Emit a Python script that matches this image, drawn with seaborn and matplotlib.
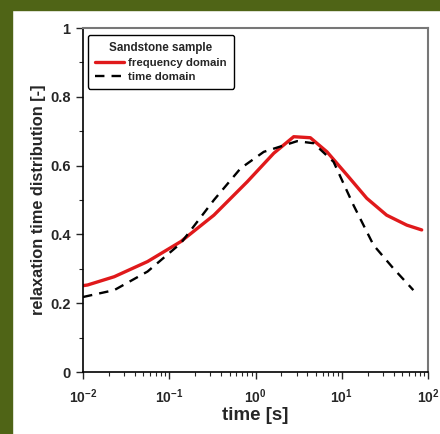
import numpy as np
import pandas as pd
import matplotlib
matplotlib.use("Agg")
import matplotlib.pyplot as plt
import seaborn as sns

# values (log10 of time, distribution)
log_t_freq = [-2.0, -1.946, -1.638, -1.252, -0.867, -0.482, -0.096, 0.212, 0.443,
              0.636, 0.829, 1.06, 1.29, 1.52, 1.754, 1.927]
freq_domain = [0.251, 0.253, 0.277, 0.321, 0.379, 0.456, 0.553, 0.636, 0.684,
               0.681, 0.640, 0.573, 0.505, 0.456, 0.427, 0.413]

log_t_time = [-2.0, -1.638, -1.252, -0.867, -0.482, -0.173, 0.096, 0.482, 0.674,
              0.905, 1.136, 1.368, 1.599, 1.83]
time_domain = [0.218, 0.238, 0.292, 0.374, 0.500, 0.592, 0.640, 0.671, 0.665,
               0.611, 0.485, 0.369, 0.301, 0.238]

x_ticks = [1e-2, 1e-1, 1e0, 1e1, 1e2]
x_labels = [r"$\mathbf{10^{-2}}$", r"$\mathbf{10^{-1}}$", r"$\mathbf{10^{0}}$",
            r"$\mathbf{10^{1}}$", r"$\mathbf{10^{2}}$"]
y_ticks = [0, 0.2, 0.4, 0.6, 0.8, 1.0]
y_labels = ["0", "0.2", "0.4", "0.6", "0.8", "1"]

df = pd.concat([
    pd.DataFrame({"time": 10 ** np.array(log_t_freq), "value": freq_domain, "series": "frequency domain"}),
    pd.DataFrame({"time": 10 ** np.array(log_t_time), "value": time_domain, "series": "time domain"}),
])

sns.set_style("ticks")
plt.rcParams["font.family"] = ["Liberation Sans", "DejaVu Sans"]
plt.rcParams["mathtext.fontset"] = "custom"
plt.rcParams["mathtext.bf"] = "Liberation Sans:bold"

fig = plt.figure(figsize=(4.40, 4.34), dpi=100, facecolor="white")
green = "#4f6416"
fig.patches.append(plt.Rectangle((0, 1 - 10 / 434), 1, 10 / 434, transform=fig.transFigure,
                                 color=green, zorder=-1))
fig.patches.append(plt.Rectangle((0, 0), 12 / 440, 1, transform=fig.transFigure,
                                 color=green, zorder=-1))

ax = fig.add_axes([83 / 440, 62 / 434, 345 / 440, 344 / 434])
sns.lineplot(data=df, x="time", y="value", hue="series", style="series",
             palette={"frequency domain": "#e0191b", "time domain": "black"},
             dashes={"frequency domain": "", "time domain": (4, 3)},
             ax=ax, legend=False)
lines = ax.get_lines()
lines[0].set_linewidth(2.4)
lines[1].set_linewidth(1.7)

ax.set_xscale("log")
ax.set_xlim(1e-2, 1e2)
ax.set_ylim(0, 1)
ax.set_xticks(x_ticks)
ax.set_xticklabels(x_labels, fontsize=10)
ax.set_yticks(y_ticks)
ax.set_yticklabels(y_labels, fontsize=10.5, fontweight="bold")
ax.set_yticks(np.arange(0.1, 1.0, 0.2), minor=True)
ax.xaxis.set_minor_locator(matplotlib.ticker.LogLocator(subs=np.arange(2, 10)))
ax.tick_params(axis="both", which="major", length=5, width=1, direction="out")
ax.tick_params(axis="x", which="major", pad=6)
ax.tick_params(axis="y", which="major", pad=4)
ax.tick_params(axis="both", which="minor", length=3, width=0.8, direction="out")

for s in ["left", "bottom"]:
    ax.spines[s].set_color("black")
    ax.spines[s].set_linewidth(1.2)
for s in ["top", "right"]:
    ax.spines[s].set_color("#777777")
    ax.spines[s].set_linewidth(1.5)

ax.set_xlabel("time [s]", fontsize=13.5, fontweight="bold", labelpad=1)
ax.set_ylabel("relaxation time distribution [-]", fontsize=11.8, fontweight="bold", labelpad=3)

leg = ax.legend(lines, ["frequency domain", "time domain"], title="Sandstone sample",
                loc="upper left", bbox_to_anchor=(0.0145, 0.98), borderaxespad=0,
                fancybox=True, prop={"weight": "bold", "size": 8.2}, handlelength=2.6,
                handletextpad=0.35, borderpad=0.6, labelspacing=0.35, framealpha=1)
leg.get_title().set_fontweight("bold")
leg.get_title().set_fontsize(8.4)
leg.get_frame().set_edgecolor("black")
leg.get_frame().set_linewidth(1.0)

fig.savefig("out.png", dpi=100, facecolor=fig.get_facecolor())
